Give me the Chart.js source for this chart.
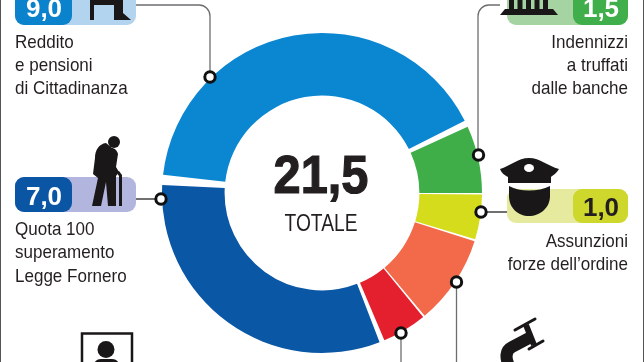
<!DOCTYPE html>
<html>
<head>
<meta charset="utf-8">
<style>
  html, body { margin: 0; padding: 0; background: #fff; }
  #wrap { position: relative; width: 644px; height: 362px; overflow: hidden; }
</style>
<script src="https://cdn.jsdelivr.net/npm/chart.js@4"></script>
</head>
<body>
<div id="wrap"><canvas id="manovraChart" width="644" height="362"></canvas></div>
<script>
const categories = [
    'Reddito e pensioni di Cittadinanza',
    'Indennizzi a truffati dalle banche',
    'Assunzioni forze dell\u2019ordine',
    'Altre misure',
    'Altri interventi',
    'Quota 100 superamento Legge Fornero'
];
const values = [9.0, 1.5, 1.0, 2.0, 1.0, 7.0];
const sliceColors = ['#0b86d1', '#3fae49', '#d4dc1c', '#f36a4b', '#e4202e', '#0a57a6'];
const totalLabel = '21,5';

const face = '"Liberation Sans", sans-serif';
const ink = '#231f20';

// rounded pill with a dark value cap on one side
function pill(ctx, x, y, w, h, capX, capW, light, dark) {
    ctx.fillStyle = light;
    ctx.beginPath();
    ctx.roundRect(x, y, w, h, 9);
    ctx.fill();
    ctx.fillStyle = dark;
    ctx.beginPath();
    ctx.roundRect(capX, y, capW, h, 9);
    ctx.fill();
}

// squeeze is the horizontal scale, the original face is condensed
function text(ctx, str, x, y, font, color, align, squeeze, heavy) {
    ctx.save();
    ctx.translate(x, y);
    ctx.scale(squeeze || 0.92, 1);
    ctx.font = font;
    ctx.fillStyle = color;
    ctx.textAlign = align || 'left';
    ctx.textBaseline = 'alphabetic';
    ctx.fillText(str, 0, 0);
    if (heavy) {
        ctx.lineWidth = heavy;
        ctx.strokeStyle = color;
        ctx.strokeText(str, 0, 0);
    }
    ctx.restore();
}

function marker(ctx, x, y) {
    ctx.beginPath();
    ctx.arc(x, y, 5.2, 0, Math.PI * 2);
    ctx.fillStyle = '#fff';
    ctx.fill();
    ctx.lineWidth = 3;
    ctx.strokeStyle = '#111';
    ctx.stroke();
}

function leader(ctx, pts, color) {
    ctx.beginPath();
    ctx.moveTo(pts[0][0], pts[0][1]);
    for (let i = 1; i < pts.length - 1; i++) {
        ctx.arcTo(pts[i][0], pts[i][1], pts[i + 1][0], pts[i + 1][1], 11);
    }
    ctx.lineTo(pts[pts.length - 1][0], pts[pts.length - 1][1]);
    ctx.lineWidth = 1.3;
    ctx.strokeStyle = color;
    ctx.stroke();
}

function drawIcons(ctx) {
    ctx.fillStyle = '#1a1718';
    ctx.strokeStyle = '#1a1718';

    // chair at the top left, mostly cut by the page edge
    ctx.fillRect(90, 0, 4, 20);
    ctx.fill(new Path2D('M90 0 H123 V13 L131 20 H114 V5 H90 Z'));

    // bank
    [509, 517.5, 526, 534.5, 543].forEach(x => ctx.fillRect(x, 0, 5, 11));
    ctx.fill(new Path2D('M505 9 H553 L558 15 H500 Z'));

    // police cap
    ctx.fill(new Path2D('M500 169 C510 166 518 158 529 158 C540 158 548 166 559 169 C556 174 552 176 551 177 V183 H508 V177 C506 176 502 174 500 169 Z'));
    ctx.fill(new Path2D('M509 186 C520 192 538 192 550 186 V196 C550 208 540 216 529 216 C518 216 509 208 509 196 Z'));
    ctx.fillStyle = '#fff';
    ctx.beginPath();
    ctx.ellipse(529, 168, 5, 4, 0, 0, Math.PI * 2);
    ctx.fill();
    ctx.fillStyle = '#1a1718';

    // old man with cane
    ctx.beginPath();
    ctx.arc(114, 142, 6, 0, Math.PI * 2);
    ctx.fill();
    ctx.fill(new Path2D('M106 143 C99 144 95 150 95 158 L93 174 L98 178 L92 206 H101 L106 182 L108 206 H116 V176 L119 172 L116 167 L118 154 C117 150 114 148 112 148 Z'));
    ctx.fill(new Path2D('M116 172 L119 171 L122 175 V206 H119 V176 Z'));

    // framed portrait at the bottom left
    ctx.lineWidth = 2.5;
    ctx.strokeRect(82, 333.5, 50, 40);
    ctx.beginPath();
    ctx.arc(106, 349.5, 8.5, 0, Math.PI * 2);
    ctx.fill();
    ctx.fill(new Path2D('M94 366 C94 361 97 359 101 359 H112 C116 359 119 361 119 366 Z'));

    // clamp at the bottom right
    ctx.lineWidth = 3;
    ctx.lineCap = 'round';
    ctx.beginPath();
    ctx.moveTo(515, 330); ctx.lineTo(535, 319);
    ctx.moveTo(529, 349); ctx.lineTo(543, 341);
    ctx.stroke();
    ctx.lineCap = 'butt';
    ctx.lineWidth = 6;
    ctx.beginPath();
    ctx.moveTo(526, 325); ctx.lineTo(534, 345);
    ctx.stroke();
    ctx.lineWidth = 12;
    ctx.beginPath();
    ctx.moveTo(531, 337);
    ctx.lineTo(512, 347);
    ctx.quadraticCurveTo(502, 352, 510, 368);
    ctx.stroke();
    ctx.lineWidth = 1;
}

const overlay = {
    id: 'overlay',
    afterDraw(chart) {
        const ctx = chart.ctx;
        ctx.save();

        // page edges
        ctx.fillStyle = '#555';
        ctx.fillRect(0, 0, 1, 362);
        ctx.fillRect(643, 0, 1, 362);

        const grey = '#6d6e70';
        leader(ctx, [[136, 5], [210, 5], [210, 77]], grey);
        leader(ctx, [[500, 5], [478, 5], [478, 156]], grey);
        leader(ctx, [[481, 212], [507, 212]], '#222');
        leader(ctx, [[136, 199], [161, 199]], '#222');
        leader(ctx, [[456.5, 282], [456.5, 362]], grey);
        leader(ctx, [[401, 333], [401, 362]], grey);

        pill(ctx, 15, -14, 121, 39, 15, 57, '#b3d4ef', '#0b82cc');
        pill(ctx, 507, -14, 121, 39, 573, 55, '#a5d4a2', '#40ae4a');
        pill(ctx, 507, 189, 121, 34, 573, 55, '#e6ea9f', '#cdd72c');
        pill(ctx, 15, 177, 121, 35, 15, 57, '#b2b6de', '#0a55a4');

        drawIcons(ctx);

        marker(ctx, 210, 77);
        marker(ctx, 478.5, 155);
        marker(ctx, 481, 212);
        marker(ctx, 161, 199);
        marker(ctx, 456.5, 282);
        marker(ctx, 401, 333);

        const valueFont = 'bold 26px ' + face;
        text(ctx, '9,0', 44, 17, valueFont, '#fff', 'center', 1);
        text(ctx, '1,5', 601, 17, valueFont, '#fff', 'center', 1);
        text(ctx, '1,0', 601, 216, valueFont, ink, 'center', 1);
        text(ctx, '7,0', 44, 205, valueFont, '#fff', 'center', 1);

        const labelFont = '18.5px ' + face;
        text(ctx, 'Reddito', 15, 48, labelFont, ink);
        text(ctx, 'e pensioni', 15, 71, labelFont, ink);
        text(ctx, 'di Cittadinanza', 15, 94, labelFont, ink);
        text(ctx, 'Quota 100', 15, 235, labelFont, ink);
        text(ctx, 'superamento', 15, 258, labelFont, ink);
        text(ctx, 'Legge Fornero', 15, 282, labelFont, ink);
        text(ctx, 'Indennizzi', 628, 48, labelFont, ink, 'right');
        text(ctx, 'a truffati', 628, 71, labelFont, ink, 'right');
        text(ctx, 'dalle banche', 628, 94, labelFont, ink, 'right');
        text(ctx, 'Assunzioni', 628, 247, labelFont, ink, 'right');
        text(ctx, 'forze dell\u2019ordine', 628, 270, labelFont, ink, 'right');

        text(ctx, totalLabel, 321, 193, 'bold 53px ' + face, ink, 'center', 0.92, 1.2);
        text(ctx, 'TOTALE', 321, 231, '24px ' + face, ink, 'center', 0.8);

        ctx.restore();
    }
};

new Chart(document.getElementById('manovraChart'), {
    type: 'doughnut',
    data: {
        labels: categories,
        datasets: [{
            data: values,
            backgroundColor: sliceColors,
            borderWidth: 0,
            spacing: 7
        }]
    },
    options: {
        responsive: false,
        animation: false,
        rotation: -85.5,
        cutout: '60%',
        layout: { padding: { top: 33, bottom: 9, left: 0, right: 0 } },
        plugins: {
            legend: { display: false },
            tooltip: { enabled: false }
        }
    },
    plugins: [overlay]
});
</script>
</body>
</html>
